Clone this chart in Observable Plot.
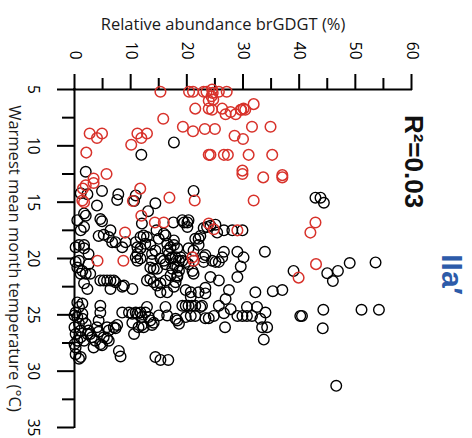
<!DOCTYPE html>
<html>
<head>
<meta charset="utf-8">
<script src="https://cdn.jsdelivr.net/npm/d3@7"></script>
<script src="https://cdn.jsdelivr.net/npm/@observablehq/plot@0.6"></script>
<style>
  html, body { margin: 0; padding: 0; background: #fff; }
  #chart svg { display: block; }
</style>
</head>
<body>
<div id="chart"></div>
<script>
// ---- Data ----
const xTitle = "Relative abundance brGDGT (%)";
const yTitle = "Warmest mean month temperature (°C)";
const statText = "R²=0.03";
const panelText = "IIa′";

const xDomain = [0, 60];
const yDomain = [5, 35];
const xMajorTicks = [0, 10, 20, 30, 40, 50, 60];
const xMinorTicks = [5, 15, 25, 35, 45, 55];
const yMajorTicks = [5, 10, 15, 20, 25, 30, 35];
const yMinorTicks = [7.5, 12.5, 17.5, 22.5, 27.5, 32.5];

// red samples: [relative abundance %, temperature °C]
const redPoints = [
  [15.3,5.2],[20.4,5.2],[21.1,5.2],[23.0,5.2],[23.5,5.2],[24.5,5.0],[24.6,5.3],[24.4,5.6],[24.7,5.9],[25.7,5.2],
  [27.1,5.2],[23.9,6.0],[21.5,6.7],[23.9,6.7],[24.5,6.8],[26.3,6.7],[26.9,7.2],[27.8,7.0],[28.7,7.2],[29.6,6.8],
  [15.8,7.6],[19.3,8.3],[21.1,8.7],[23.2,8.5],[25.0,8.5],[28.5,9.1],[2.7,8.9],[4.0,9.3],[4.9,8.9],[11.2,8.9],
  [11.9,9.3],[12.9,8.9],[10.1,9.9],[2.1,10.6],[23.9,10.8],[24.2,10.8],[26.6,10.8],[27.3,10.8],[5.7,12.5],[3.4,12.9],
  [3.4,13.3],[2.0,13.5],[1.5,13.8],[1.4,14.85],[1.7,15.0],[11.7,13.8],[10.4,14.9],[16.9,14.6],[21.4,14.85],[11.9,16.2],
  [14.3,16.8],[15.9,16.8],[23.9,16.9],[9.0,17.7],[31.9,6.3],[30.1,6.7],[29.7,6.8],[30.4,6.8],[31.6,8.3],[34.9,8.3],
  [30.0,9.4],[31.0,10.8],[35.2,10.8],[29.9,12.2],[29.9,12.5],[33.6,12.8],[37.0,12.6],[37.0,12.8],[31.9,14.85],[42.9,16.8],
  [42.0,17.7],[43.0,20.5],[39.9,21.7],[24.8,17.4],[29.0,17.5],[21.0,19.9],[21.2,20.2],[4.1,20.2],[8.7,20.2]
];

// black samples: [relative abundance %, temperature °C]
const blackPoints = [
  [17.7,9.7],[11.9,10.8],[2.0,12.3],[4.9,14.0],[7.8,14.3],[7.6,14.8],[10.9,14.4],[10.6,14.9],[14.4,15.1],[13.1,15.8],
  [21.2,14.0],[1.1,14.2],[2.3,14.3],[4.0,15.3],[1.7,16.0],[2.0,16.2],[0.5,16.6],[1.7,17.2],[1.1,17.5],[4.6,16.5],
  [4.9,16.7],[6.4,17.5],[42.9,14.6],[43.8,14.6],[44.4,15.05],[12.0,16.9],[14.6,17.5],[15.9,17.8],[17.6,16.8],[19.2,16.6],
  [20.1,16.8],[20.3,16.6],[20.1,17.2],[19.5,16.8],[23.0,17.3],[23.6,17.2],[24.2,17.1],[25.1,17.0],[25.4,17.7],[26.6,17.5],
  [28.1,17.5],[29.9,17.5],[4.3,18.0],[5.2,17.9],[6.1,18.1],[6.7,18.55],[7.3,18.55],[9.1,18.55],[8.5,19.0],[10.9,18.55],
  [11.2,19.0],[11.75,18.1],[12.3,17.95],[12.9,18.1],[11.75,19.1],[12.6,18.7],[13.5,18.8],[14.4,19.3],[15.0,18.25],[16.2,17.95],
  [16.5,18.7],[17.1,19.0],[17.7,18.8],[18.3,19.1],[13.8,19.6],[11.2,19.6],[10.9,19.9],[0.2,19.0],[0.8,18.8],[1.7,18.8],
  [1.7,19.1],[2.5,19.6],[0.2,20.3],[0.5,20.8],[1.4,21.1],[1.1,21.35],[2.5,20.5],[2.8,21.35],[2.0,21.35],[1.7,22.2],
  [2.3,22.7],[0.8,20.2],[4.6,21.95],[5.2,21.95],[5.8,21.95],[6.4,21.95],[7.0,21.95],[7.3,22.1],[6.4,22.7],[8.5,22.5],
  [8.8,22.4],[10.3,22.7],[12.9,21.95],[13.5,21.8],[14.1,22.1],[14.7,22.4],[15.3,22.2],[16.2,21.95],[16.5,23.0],[15.3,23.0],
  [17.7,22.5],[18.0,22.1],[18.3,21.65],[17.1,21.5],[17.7,20.5],[18.3,20.8],[17.1,20.0],[16.8,19.6],[16.6,19.3],[17.4,19.9],
  [13.8,20.2],[13.5,20.8],[14.1,20.9],[15.3,20.0],[15.9,20.2],[16.2,20.5],[11.75,20.0],[11.2,20.2],[14.7,20.9],[17.7,18.4],
  [18.6,20.2],[18.9,19.9],[17.4,20.9],[22.4,18.0],[22.1,18.25],[21.5,18.25],[20.3,19.1],[21.2,19.3],[22.1,18.8],[18.0,19.9],
  [19.2,20.2],[19.8,20.3],[20.3,20.5],[23.0,19.9],[23.0,20.3],[23.3,19.7],[24.5,20.2],[25.1,20.3],[25.7,20.3],[26.3,19.9],
  [26.6,19.4],[29.0,19.4],[30.1,19.9],[29.6,20.7],[33.9,19.4],[18.6,21.1],[18.3,21.5],[21.0,21.1],[21.2,21.35],[24.2,21.65],
  [25.7,21.95],[29.0,21.65],[19.8,22.8],[20.7,23.0],[23.3,22.6],[23.3,23.1],[27.5,22.8],[32.2,23.0],[35.3,22.9],[37.0,22.8],
  [26.9,23.6],[25.7,24.2],[22.1,23.0],[20.7,23.4],
  [0.5,23.9],[0.8,24.3],[0.2,24.8],[0.0,25.05],[0.5,25.2],[1.4,25.35],[0.8,25.8],[0.0,26.1],[1.1,26.4],[0.2,26.7],
  [1.1,27.0],[0.5,27.3],[0.0,27.6],[0.2,27.9],[1.4,24.0],[1.4,24.9],[2.0,25.8],[2.3,26.7],[1.7,27.3],[1.1,28.75],
  [0.8,28.9],[0.2,28.5],[4.6,24.2],[4.6,24.8],[4.3,25.5],[4.0,26.1],[2.8,26.7],[4.3,26.5],[5.2,27.0],[5.8,27.1],
  [4.9,27.7],[3.4,27.9],[4.6,27.6],[2.5,26.4],[3.7,27.3],[3.1,27.0],[5.8,26.1],[7.0,26.1],[7.6,25.9],[7.3,26.2],
  [6.1,27.3],[6.1,26.4],[7.9,28.2],[8.2,28.7],
  [8.5,24.8],[9.7,24.8],[10.3,24.9],[10.9,24.8],[11.2,24.9],[11.75,24.8],[12.0,25.2],[12.9,24.3],[12.6,24.8],[13.2,25.2],
  [13.5,25.5],[13.8,25.9],[12.0,25.9],[12.3,26.1],[14.1,25.7],[16.2,24.3],[16.5,25.05],[15.0,25.05],[10.3,25.7],[10.6,26.7],
  [11.4,26.1],[18.3,25.5],[18.6,25.8],[18.0,25.35],[14.4,28.75],[15.3,29.0],[16.7,29.0],
  [19.2,24.2],[19.8,24.2],[20.3,24.2],[20.9,24.2],[21.5,24.2],[22.4,24.3],[27.8,24.5],[30.7,24.3],[32.5,24.3],[34.0,24.8],
  [20.7,25.1],[21.5,25.1],[23.3,25.3],[23.9,25.3],[24.8,25.1],[26.6,24.85],[29.0,25.1],[29.9,25.1],[30.7,25.1],[31.6,25.1],
  [33.1,25.35],[33.4,26.1],[34.3,26.1],[33.7,27.2],[26.8,26.1],[19.8,25.2],[22.7,24.2],
  [39.0,21.1],[45.0,21.3],[46.0,22.0],[46.9,21.1],[49.0,20.4],[53.6,20.35],[44.3,24.55],[51.1,24.55],[54.2,24.55],[40.2,25.1],
  [40.5,25.1],[44.2,26.2],[46.6,31.3]
];

const redColor = "#d8322b";
const blackColor = "#000000";
const blueColor = "#2d5ba9";
const font = "'Open Sans', 'Noto Sans', sans-serif";

const chart = Plot.plot({
  width: 472,
  height: 438,
  marginTop: 89,
  marginLeft: 74,
  marginRight: 61,
  marginBottom: 11,
  x: {domain: xDomain, axis: null},
  y: {domain: yDomain, reverse: true, axis: null},
  style: {fontFamily: font, background: "#fff", color: "#000", overflow: "visible"},
  marks: [
    // minor ticks
    Plot.axisX(xMinorTicks, {anchor: "top", tickSize: 12, strokeWidth: 2, fill: "none", label: null}),
    Plot.axisY(yMinorTicks, {anchor: "left", tickSize: 12, strokeWidth: 2, fill: "none", label: null}),
    // major ticks + rotated labels
    Plot.axisX(xMajorTicks, {
      anchor: "top", tickSize: 16, tickPadding: 14, strokeWidth: 2,
      tickRotate: 90, textAnchor: "end", lineAnchor: "middle", fontSize: 15.5, label: null
    }),
    Plot.axisY(yMajorTicks, {
      anchor: "left", tickSize: 17, tickPadding: 25, strokeWidth: 2,
      tickRotate: 90, textAnchor: "middle", lineAnchor: "middle", fontSize: 15.5, label: null
    }),
    // axis lines
    Plot.ruleY([yDomain[0]], {strokeWidth: 2, strokeLinecap: "square"}),
    Plot.ruleX([xDomain[0]], {strokeWidth: 2, strokeLinecap: "square"}),
    // data
    Plot.dot(blackPoints, {x: d => d[0], y: d => d[1], r: 5.3, stroke: blackColor, strokeWidth: 1.4, fill: "none"}),
    Plot.dot(redPoints, {x: d => d[0], y: d => d[1], r: 5.3, stroke: redColor, strokeWidth: 1.5, fill: "none"}),
    // titles and annotations
    Plot.text([xTitle], {frameAnchor: "top", dx: -20, dy: -65, fontSize: 16.5, lineAnchor: "middle", fill: "#1a1a1a"}),
    Plot.text([yTitle], {frameAnchor: "left", dx: -60, dy: 0, rotate: 90, fontSize: 16.5, textAnchor: "middle", lineAnchor: "middle", fill: "#1a1a1a"}),
    Plot.text([statText], {frameAnchor: "top-right", dx: 2, dy: 72, rotate: 90, fontSize: 26, fontWeight: "bold", textAnchor: "middle", lineAnchor: "middle", fill: "#111", fontFamily: "'Liberation Sans', Arial, sans-serif"}),
    Plot.text([panelText], {frameAnchor: "right", dx: 40, dy: 16, rotate: 90, fontSize: 30, fontWeight: "bold", textAnchor: "middle", lineAnchor: "middle", fill: blueColor, fontFamily: "'Liberation Sans', Arial, sans-serif"})
  ]
});

document.getElementById("chart").appendChild(chart);
</script>
</body>
</html>
